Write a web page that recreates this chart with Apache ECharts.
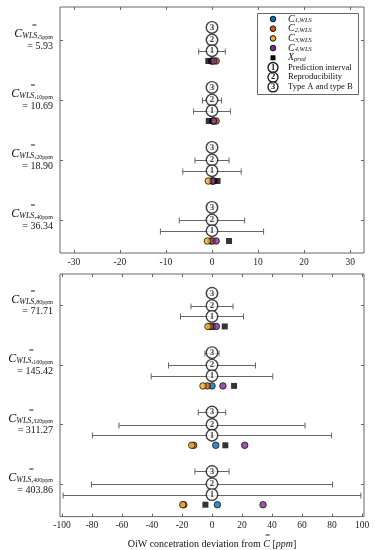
<!DOCTYPE html>
<html><head><meta charset="utf-8">
<script src="https://cdn.jsdelivr.net/npm/echarts@6/dist/echarts.min.js"></script>
<style>html,body{margin:0;padding:0;background:#fff}#c{width:375px;height:550px}</style>
</head><body><div id="c"></div>
<script>
// ---- data ----
const groupsTop = ['5ppm', '10ppm', '20ppm', '40ppm'];
const meansTop = ['5.93', '10.69', '18.90', '36.34'];
const groupsBot = ['80ppm', '160ppm', '320ppm', '400ppm'];
const meansBot = ['71.71', '145.42', '311.27', '403.86'];
const ticksTop = [-30, -20, -10, 0, 10, 20, 30];
const ticksBot = [-100, -80, -60, -40, -20, 0, 20, 40, 60, 80, 100];

const piTop = [2.9, 4.0, 6.35, 11.2];
const reproTop = [1.0, 2.05, 3.7, 7.1];
const typeABTop = [0.4, 0.5, 0.8, 1.0];
const piBot = [21, 40.5, 79.7, 99.2];
const reproBot = [14, 29, 62, 80.3];
const typeABBot = [3, 4.7, 9.1, 11.4];

const c1Top = [0.0, 0.2, 0.0, -0.2];
const c2Top = [0.9, 0.9, 0.1, 0.1];
const c3Top = [-0.1, 0.4, -0.8, -1.0];
const c4Top = [0.4, 0.3, 0.4, 0.9];
const xpredTop = [-0.8, -0.7, 1.2, 3.7];
const c1Bot = [0.5, 0.0, 2.5, 3.6];
const c2Bot = [-1.0, -3.1, -12.2, -18.8];
const c3Bot = [-2.7, -6.0, -13.5, -19.5];
const c4Bot = [2.9, 7.3, 21.8, 34.0];
const xpredBot = [8.5, 14.7, 8.9, -4.4];

const legendNames = ['1,WLS', '2,WLS', '3,WLS', '4,WLS', 'pred', 'Prediction interval', 'Reproducibility', 'Type A and type B'];
const axisTitle = ['OiW concetration deviation from ', 'C', ' [', 'ppm', ']'];

// ---- styles / layout ----
const COLORS = ['#0072BD', '#D95319', '#EDB120', '#7E2F8E'];
const SERIF = 'Liberation Serif';
const ROW = {ab: -0.21, repro: 0, pi: 0.18, pts: 0.35};
const frame = '#666';

const mctx = document.createElement('canvas').getContext('2d');
function tw(text, size, italic, family) {
  mctx.font = (italic ? 'italic ' : '') + size + 'px "' + (family || SERIF) + '"';
  return mctx.measureText(text).width;
}

function yLabelFmt(groups, means) {
  return v => {
    const k = Math.round(v);
    return '{ob|=}{gap| }\n{c|C}{s|WLS,}{p|' + groups[k] + '}\n{v|= ' + means[k] + '}';
  };
}
function yRich() {
  return {
    ob: {fontFamily: SERIF, fontSize: 8.5, color: '#111', lineHeight: 4, width: tw('C', 12, true), align: 'center', padding: [0, 0, 0, 1.5]},
    gap: {fontSize: 8, lineHeight: 4, width: 0},
    c: {fontFamily: SERIF, fontStyle: 'italic', fontSize: 12, color: '#111', lineHeight: 12},
    s: {fontFamily: SERIF, fontStyle: 'italic', fontSize: 8, color: '#111', verticalAlign: 'bottom', lineHeight: 12},
    p: {fontFamily: SERIF, fontSize: 6, color: '#111', verticalAlign: 'bottom', lineHeight: 12},
    v: {fontFamily: SERIF, fontSize: 10, color: '#111', lineHeight: 12}
  };
}

function xAx(grid, min, max, ticks, pos, labels, extra) {
  return Object.assign({
    type: 'value', gridIndex: grid, min: min, max: max, position: pos,
    axisLine: {show: false, onZero: false}, splitLine: {show: false},
    axisTick: {show: true, inside: true, length: 3, customValues: ticks, lineStyle: {color: frame}},
    axisLabel: {show: labels, customValues: ticks, fontFamily: SERIF, fontSize: 9.5, color: '#222', margin: 4,
      formatter: v => String(v)}
  }, extra || {});
}
function yAx(grid, min, max, pos, labels, fmt, rich) {
  return {
    type: 'value', gridIndex: grid, min: min, max: max, inverse: true, position: pos,
    axisLine: {show: false, onZero: false}, splitLine: {show: false},
    axisTick: {show: true, inside: true, length: 3, customValues: [0, 1, 2, 3], lineStyle: {color: frame}},
    axisLabel: {show: labels, customValues: [0, 1, 2, 3], margin: 7, padding: [0, 0, 4, 0], formatter: fmt, rich: rich}
  };
}

function errData(half) {
  const out = [];
  half.ab.forEach((h, k) => out.push([-h, h, k + ROW.ab]));
  half.repro.forEach((h, k) => out.push([-h, h, k + ROW.repro]));
  half.pi.forEach((h, k) => out.push([-h, h, k + ROW.pi]));
  return out;
}
function errSeries(xi, yi, half) {
  return {
    type: 'custom', xAxisIndex: xi, yAxisIndex: yi, z: 2, silent: true,
    data: errData(half),
    encode: {x: [0, 1], y: 2},
    renderItem: (params, api) => {
      const y = api.value(2);
      const a = api.coord([api.value(0), y]);
      const b = api.coord([api.value(1), y]);
      const yy = Math.round(a[1]) + 0.5;
      const st = {stroke: '#666', lineWidth: 1};
      return {type: 'group', children: [
        {type: 'line', shape: {x1: a[0], y1: yy, x2: b[0], y2: yy}, style: st},
        {type: 'line', shape: {x1: a[0], y1: yy - 3, x2: a[0], y2: yy + 3}, style: st},
        {type: 'line', shape: {x1: b[0], y1: yy - 3, x2: b[0], y2: yy + 3}, style: st}
      ]};
    }
  };
}
function circledSeries(xi, yi, row, num) {
  return {
    type: 'scatter', xAxisIndex: xi, yAxisIndex: yi, z: 4, silent: true,
    data: [0, 1, 2, 3].map(k => [0, k + row]),
    symbol: 'circle', symbolSize: 11.5,
    itemStyle: {color: '#fff', borderColor: '#111', borderWidth: 1.4},
    label: {show: true, position: 'inside', formatter: num, fontFamily: SERIF, fontWeight: 'bold', fontSize: 9, color: '#111'}
  };
}
function dotSeries(xi, yi, vals, color, square) {
  return {
    type: 'scatter', xAxisIndex: xi, yAxisIndex: yi, z: 5, silent: true,
    data: vals.map((v, k) => [v, k + ROW.pts]),
    symbol: square ? 'rect' : 'circle', symbolSize: square ? 6 : 6.5,
    itemStyle: square ? {color: '#000'} : {color: color, borderColor: '#111', borderWidth: 1}
  };
}
function panelSeries(xi, yi, half, cs, xp) {
  return [
    errSeries(xi, yi, half),
    circledSeries(xi, yi, ROW.ab, '3'),
    circledSeries(xi, yi, ROW.repro, '2'),
    circledSeries(xi, yi, ROW.pi, '1'),
    dotSeries(xi, yi, cs[0], COLORS[0]),
    dotSeries(xi, yi, cs[1], COLORS[1]),
    dotSeries(xi, yi, cs[2], COLORS[2]),
    dotSeries(xi, yi, cs[3], COLORS[3]),
    dotSeries(xi, yi, xp, '#000', true)
  ];
}

// ---- legend (graphic) ----
const LX = 257, LY = 13, LW = 101, LH = 81, rowH = 9.7;
const legendEls = [{type: 'rect', left: LX, top: LY, shape: {width: LW, height: LH}, style: {fill: '#fff', stroke: frame, lineWidth: 1}, z: 10}];
legendNames.forEach((name, i) => {
  const cy = LY + 6 + i * rowH;
  let txt;
  if (i < 4) {
    legendEls.push({type: 'circle', shape: {cx: 273, cy: cy, r: 2.8}, style: {fill: COLORS[i], stroke: '#111', lineWidth: 1}, z: 11});
    txt = '{i|C}{s|' + name + '}';
  } else if (i === 4) {
    legendEls.push({type: 'rect', shape: {x: 270.5, y: cy - 2.5, width: 5, height: 5}, style: {fill: '#000'}, z: 11});
    txt = '{i|X}{s|' + name + '}';
  } else {
    legendEls.push({type: 'circle', shape: {cx: 273, cy: cy, r: 5}, style: {fill: '#fff', stroke: '#111', lineWidth: 1.3}, z: 11});
    legendEls.push({type: 'text', x: 273, y: cy, style: {text: String(i - 4), fontFamily: SERIF, fontWeight: 'bold', fontSize: 8.5, fill: '#111', align: 'center', verticalAlign: 'middle'}, z: 12});
    txt = '{t|' + name + '}';
  }
  legendEls.push({type: 'text', x: 288, y: cy, z: 12, style: {
    text: txt, verticalAlign: 'middle', align: 'left',
    rich: {
      i: {fontFamily: SERIF, fontStyle: 'italic', fontSize: 10, fill: '#111'},
      s: {fontFamily: SERIF, fontStyle: 'italic', fontSize: 6.5, fill: '#111', verticalAlign: 'bottom'},
      t: {fontFamily: SERIF, fontSize: 8.6, fill: '#111'}
    }}});
});

// axis title with double overline over C
const wA = tw(axisTitle[0], 10, false), wC = tw(axisTitle[1], 10, true);
const wB = tw(axisTitle[2], 10, false) + tw(axisTitle[3], 10, true) + tw(axisTitle[4], 10, false);
const axisName = '{g1| }{ob|=}{g2| }\n{t|' + axisTitle[0] + '}{i|' + axisTitle[1] + '}{t|' + axisTitle[2] + '}{i|' + axisTitle[3] + '}{t|' + axisTitle[4] + '}';

const chart = echarts.init(document.getElementById('c'), null, {renderer: 'canvas'});
chart.setOption({
  animation: false,
  backgroundColor: '#fff',
  grid: [
    {left: 60, right: 11, top: 7, height: 246, show: true, borderColor: frame, borderWidth: 1, backgroundColor: 'transparent'},
    {left: 60, right: 11, top: 274, height: 245, show: true, borderColor: frame, borderWidth: 1, backgroundColor: 'transparent'}
  ],
  xAxis: [
    xAx(0, -33, 33, ticksTop, 'bottom', true),
    xAx(0, -33, 33, ticksTop, 'top', false),
    xAx(1, -101.3, 101.3, ticksBot, 'bottom', true, {
      name: axisName, nameLocation: 'middle', nameGap: 15,
      nameTextStyle: {fontFamily: SERIF, fontSize: 10, color: '#111',
        rich: {
          g1: {width: wA, fontSize: 8, lineHeight: 4},
          ob: {width: wC, fontSize: 8.5, lineHeight: 4, align: 'center', fontFamily: SERIF, color: '#111', padding: [0, 0, 0, 2]},
          g2: {width: wB, fontSize: 8, lineHeight: 4},
          t: {fontFamily: SERIF, fontSize: 10, color: '#111', lineHeight: 12},
          i: {fontFamily: SERIF, fontStyle: 'italic', fontSize: 10, color: '#111', lineHeight: 12}
        }}
    }),
    xAx(1, -101.3, 101.3, ticksBot, 'top', false)
  ],
  yAxis: [
    yAx(0, -0.55, 3.55, 'left', true, yLabelFmt(groupsTop, meansTop), yRich()),
    yAx(0, -0.55, 3.55, 'right', false),
    yAx(1, -0.533, 3.55, 'left', true, yLabelFmt(groupsBot, meansBot), yRich()),
    yAx(1, -0.533, 3.55, 'right', false)
  ],
  series: [].concat(
    panelSeries(0, 0, {ab: typeABTop, repro: reproTop, pi: piTop}, [c1Top, c2Top, c3Top, c4Top], xpredTop),
    panelSeries(2, 2, {ab: typeABBot, repro: reproBot, pi: piBot}, [c1Bot, c2Bot, c3Bot, c4Bot], xpredBot)
  ),
  graphic: legendEls
});
</script></body></html>
